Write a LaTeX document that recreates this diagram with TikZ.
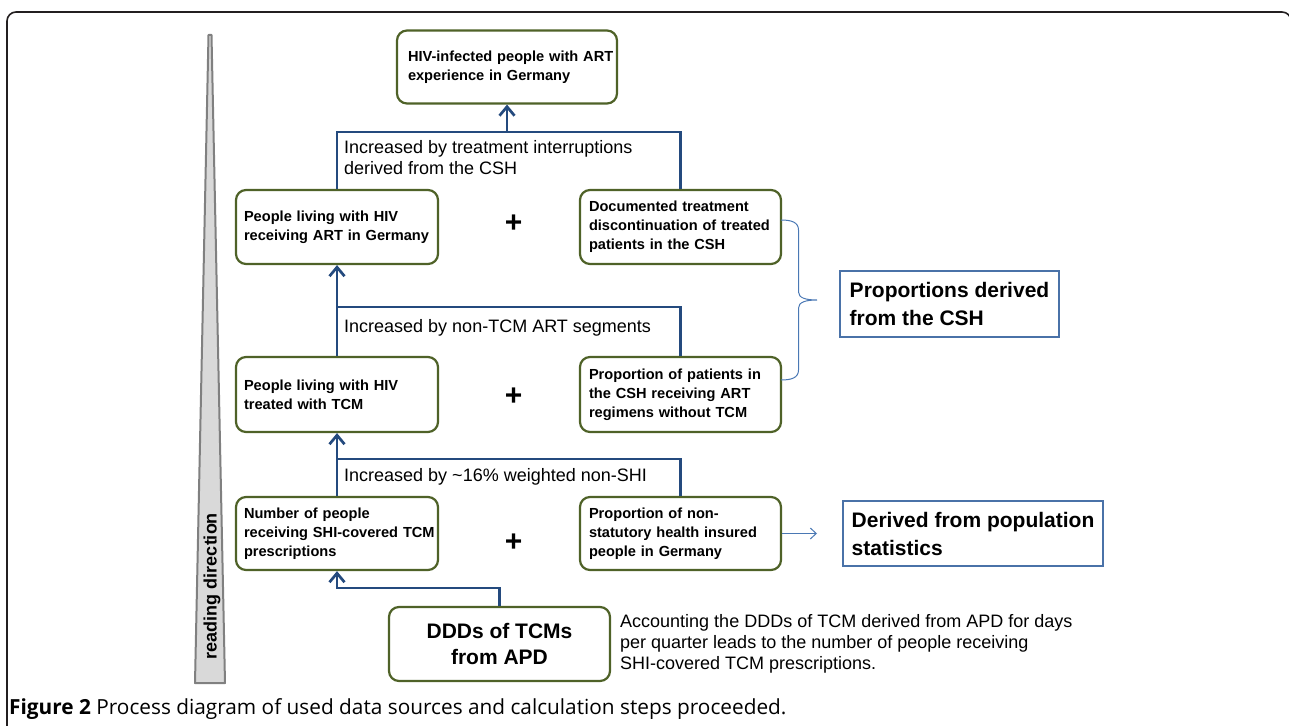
\documentclass[tikz,border=0pt]{standalone}
\usepackage{fontspec}
\setmainfont{Liberation Sans}
\newfontfamily\capfont{Open Sans}
\usetikzlibrary{arrows.meta}
\definecolor{olivebox}{HTML}{4F6228}
\definecolor{connblue}{HTML}{244A7E}
\definecolor{thinblue}{HTML}{4A78B4}
\definecolor{sideblue}{HTML}{4A72A8}
\definecolor{framegray}{HTML}{231F20}
\definecolor{trifill}{HTML}{D9D9D9}
\definecolor{tridraw}{HTML}{808080}
\hbadness=10000 \hfuzz=50pt
\begin{document}
\begin{tikzpicture}[x=1pt,y=-1pt,
  box/.style={draw=olivebox, line width=2.2pt, rounded corners=10pt, fill=white,
    inner xsep=8pt, inner ysep=0pt, align=left,
    font=\fontsize{14.6}{19}\selectfont\bfseries},
  lbox/.style={box, minimum width=202pt, text width=186pt},
  rbox/.style={box, minimum width=201pt, text width=183pt, inner xsep=9pt},
  conn/.style={draw=connblue, line width=2.7pt},
  arr/.style={conn, -{Straight Barb[length=9pt,width=15pt]}},
  thinarr/.style={draw=thinblue, line width=1pt, -{Straight Barb[length=6pt,width=11pt]}},
  lbl/.style={inner sep=0pt, align=left, font=\fontsize{18}{21}\selectfont},
  plus/.style={inner sep=0pt, font=\fontsize{30}{30}\selectfont\bfseries},
  sidebox/.style={draw=sideblue, line width=1.2pt, fill=white, align=left,
    inner sep=0pt, font=\fontsize{21}{28}\selectfont\bfseries}
]
\useasboundingbox (0,0) rectangle (1289,725);

% outer frame
\draw[framegray, line width=1.6pt, rounded corners=9pt] (7,735) -- (7,12) -- (1291,12) -- (1291,735);

% reading direction triangle
\path[draw=tridraw, fill=trifill, line width=2pt, line join=round]
  (208.5,35) -- (211.5,35) -- (225,683) -- (195,683) -- cycle;
\node[rotate=90, inner sep=0pt, font=\fontsize{18}{18}\selectfont\bfseries] (rd) at (212,586) {reading direction};

% boxes
\node[box, minimum width=220pt, minimum height=73pt, text width=198pt, inner xsep=11pt] (top) at (507,67)
  {\mbox{HIV-infected people with ART}\\\mbox{experience in Germany}};
\node[lbox, minimum height=74pt] (L1) at (337,227) {\mbox{People living with HIV}\\\mbox{receiving ART in Germany}};
\node[rbox, minimum height=74pt] (R1) at (680.5,227) {\mbox{Documented treatment}\\\mbox{discontinuation of treated}\\\mbox{patients in the CSH}};
\node[lbox, minimum height=75pt] (L2) at (337,394.5) {\mbox{People living with HIV}\\\mbox{treated with TCM}};
\node[rbox, minimum height=75pt] (R2) at (680.5,394.5) {\mbox{Proportion of patients in}\\\mbox{the CSH receiving ART}\\\mbox{regimens without TCM}};
\node[lbox, minimum height=73pt] (L3) at (337,533.5) {\mbox{Number of people}\\\mbox{receiving SHI-covered TCM}\\\mbox{prescriptions}};
\node[rbox, minimum height=73pt] (R3) at (680.5,533.5) {\mbox{Proportion of non-}\\\mbox{statutory health insured}\\\mbox{people in Germany}};
\node[box, minimum width=221pt, minimum height=74pt, align=center,
  font=\fontsize{21}{26}\selectfont\bfseries] (DDD) at (499.5,644) {DDDs of TCMs\\from APD};

% plus signs
\node[plus] (p1) at (513.7,223.3) {+};
\node[plus] (p2) at (513.7,396.7) {+};
\node[plus] (p3) at (513.7,542.3) {+};

% connectors
\coordinate (j1) at (507,132);
\draw[conn] (L1.north) |- (j1) -| (R1.north);
\draw[arr] (j1) -- (top.south);
\coordinate (j2) at (337,307);
\draw[arr] (L2.north) -- (L1.south);
\draw[conn] (j2) -| (R2.north);
\coordinate (j3) at (337,459);
\draw[arr] (L3.north) -- (L2.south);
\draw[conn] (j3) -| (R3.north);
\coordinate (j4) at (337,588);
\draw[arr] (DDD.north) |- (j4) -- (L3.south);

% labels
\node[lbl, anchor=west] (t1) at (344,157.5) {Increased by treatment interruptions\\derived from the CSH};
\node[lbl, anchor=west] (t2) at (344,328) {Increased by non-TCM ART segments};
\node[lbl, anchor=west] (t3) at (344,477) {Increased by \textasciitilde16\% weighted non-SHI};
\node[lbl, anchor=west] (acc) at (620,644) {Accounting the DDDs of TCM derived from APD for days\\per quarter leads to the number of people receiving\\SHI-covered TCM prescriptions.};

% side boxes
\node[sidebox, minimum width=219pt, minimum height=66pt] (csh) at (949.5,304) {Proportions derived\\from the CSH};
\node[sidebox, minimum width=260pt, minimum height=65pt] (pop) at (973,533.5) {Derived from population\\statistics};

% brace
\draw[thinblue, line width=1pt] (781,220) .. controls (791,220) and (798.5,222) .. (798.5,230)
  -- (798.5,292) .. controls (798.5,298) and (806,300) .. (817,300)
  .. controls (806,300) and (798.5,302) .. (798.5,308)
  -- (798.5,370) .. controls (798.5,378) and (791,380) .. (781,380);

% thin arrow
\coordinate (pa) at (817,533.5);
\draw[thinarr] (R3.east) -- (pa);

% caption
\node[anchor=base west, inner sep=0pt, font=\capfont\fontsize{20.8}{21}\selectfont] (cap) at (9,714)
  {\textbf{Figure 2} Process diagram of used data sources and calculation steps proceeded.};
\end{tikzpicture}
\end{document}
